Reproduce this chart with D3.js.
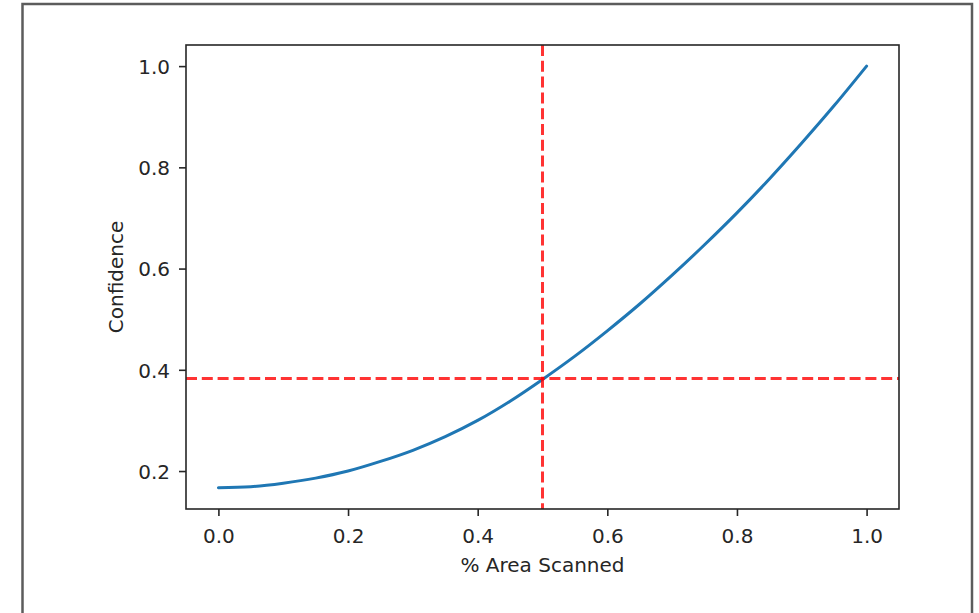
<!DOCTYPE html>
<html>
<head>
<meta charset="utf-8">
<script src="https://cdn.jsdelivr.net/npm/d3@7/dist/d3.min.js"></script>
<style>
  html, body { margin: 0; padding: 0; background: #fff; }
  svg { display: block; }
  text { font-family: "DejaVu Sans", sans-serif; fill: #262626; }
</style>
</head>
<body>
<script>
// ---- data ----
const areaScanned = [0.00, 0.05, 0.10, 0.15, 0.20, 0.25, 0.30, 0.35, 0.40, 0.45, 0.50,
                     0.55, 0.60, 0.65, 0.70, 0.75, 0.80, 0.85, 0.90, 0.95, 1.00];
const confidence  = [0.167, 0.169, 0.176, 0.186, 0.200, 0.219, 0.241, 0.268, 0.300, 0.338, 0.381,
                     0.427, 0.477, 0.530, 0.587, 0.647, 0.710, 0.777, 0.848, 0.922, 1.000];
const xTicks = [0.0, 0.2, 0.4, 0.6, 0.8, 1.0];
const yTicks = [0.2, 0.4, 0.6, 0.8, 1.0];
const refX = [0.5];
const refY = [0.383];
const xLabel = "% Area Scanned";
const yLabel = "Confidence";

const W = 979, H = 613;
const plot = { left: 186, top: 45, right: 899, bottom: 509 };

const svg = d3.select("body").append("svg").attr("width", W).attr("height", H);

// outer frame (top, left, right edges only)
svg.append("path")
  .attr("d", `M22.5,${H} L22.5,4 L972,4 L972,${H}`)
  .attr("fill", "none").attr("stroke", "#5c5c5c").attr("stroke-width", 2.5);

const x = d3.scaleLinear().domain([-0.05, 1.05]).range([plot.left, plot.right]);
const y = d3.scaleLinear().domain([0.125, 1.0417]).range([plot.bottom, plot.top]);

// clip
svg.append("clipPath").attr("id", "clip")
  .append("rect").attr("x", plot.left).attr("y", plot.top)
  .attr("width", plot.right - plot.left).attr("height", plot.bottom - plot.top);

const g = svg.append("g").attr("clip-path", "url(#clip)");

// curve
const line = d3.line().x((d, i) => x(areaScanned[i])).y(d => y(d)).curve(d3.curveMonotoneX);
g.append("path").datum(confidence)
  .attr("d", line).attr("fill", "none")
  .attr("stroke", "#1f77b4").attr("stroke-width", 3)
  .attr("stroke-linecap", "round");

// reference lines
g.selectAll(".vref").data(refX).enter().append("line")
  .attr("x1", d => x(d)).attr("x2", d => x(d))
  .attr("y1", plot.top).attr("y2", plot.bottom)
  .attr("stroke", "#ff0000").attr("stroke-opacity", 0.8)
  .attr("stroke-width", 3).attr("stroke-dasharray", "11,4.8");
g.selectAll(".href").data(refY).enter().append("line")
  .attr("x1", plot.left).attr("x2", plot.right)
  .attr("y1", d => y(d)).attr("y2", d => y(d))
  .attr("stroke", "#ff0000").attr("stroke-opacity", 0.8)
  .attr("stroke-width", 3).attr("stroke-dasharray", "11,4.8");

// axes
const xAxis = d3.axisBottom(x).tickValues(xTicks).tickFormat(d3.format(".1f"))
  .tickSizeInner(7).tickSizeOuter(0).tickPadding(7);
const yAxis = d3.axisLeft(y).tickValues(yTicks).tickFormat(d3.format(".1f"))
  .tickSizeInner(7).tickSizeOuter(0).tickPadding(7);

const gx = svg.append("g").attr("transform", `translate(0,${plot.bottom})`).call(xAxis);
const gy = svg.append("g").attr("transform", `translate(${plot.left},0)`).call(yAxis);
[gx, gy].forEach(a => {
  a.select(".domain").remove();
  a.selectAll(".tick line").attr("stroke", "#262626").attr("stroke-width", 1.6);
  a.selectAll(".tick text").attr("font-size", 20).attr("font-family", "DejaVu Sans, sans-serif").attr("fill", "#262626");
});
gx.selectAll(".tick text").attr("dy", null).attr("y", 34);
gy.selectAll(".tick text").attr("dy", "0.36em").attr("x", -16);

// spines
svg.append("rect").attr("x", plot.left).attr("y", plot.top)
  .attr("width", plot.right - plot.left).attr("height", plot.bottom - plot.top)
  .attr("fill", "none").attr("stroke", "#262626").attr("stroke-width", 1.6);

// labels
svg.append("text").attr("x", (plot.left + plot.right) / 2).attr("y", 572)
  .attr("text-anchor", "middle").attr("font-size", 20).text(xLabel);
svg.append("text")
  .attr("transform", `translate(123,${(plot.top + plot.bottom) / 2}) rotate(-90)`)
  .attr("text-anchor", "middle").attr("font-size", 20).text(yLabel);
</script>
</body>
</html>
